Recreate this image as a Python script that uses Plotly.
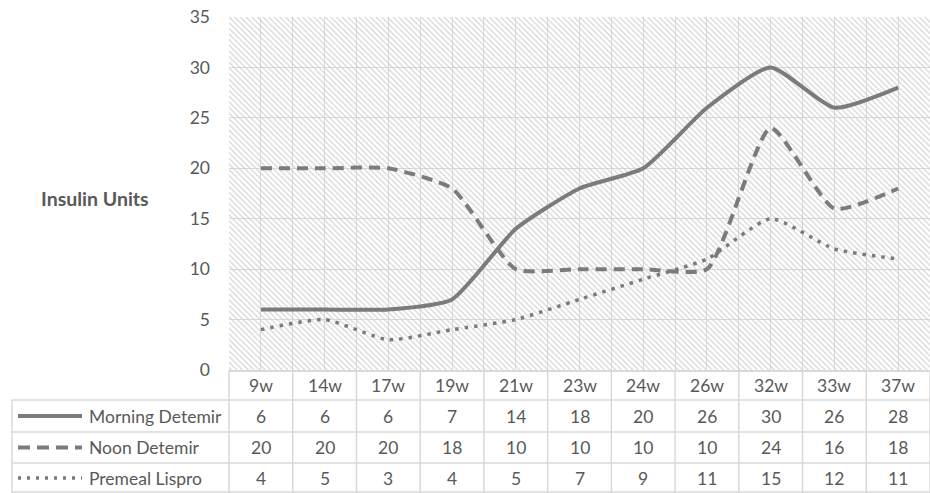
import plotly.graph_objects as go

categories = ["9w", "14w", "17w", "19w", "21w", "23w", "24w", "26w", "32w", "33w", "37w"]
morning_detemir = [6, 6, 6, 7, 14, 18, 20, 26, 30, 26, 28]
noon_detemir = [20, 20, 20, 18, 10, 10, 10, 10, 24, 16, 18]
premeal_lispro = [4, 5, 3, 4, 5, 7, 9, 11, 15, 12, 11]
series_names = ["Morning Detemir", "Noon Detemir", "Premeal Lispro"]
y_ticks = [0, 5, 10, 15, 20, 25, 30, 35]
y_title = "Insulin Units"

W, H = 930, 493
L, R, T, B = 229, 0, 17, 123
PW, PH = W - L - R, H - T - B
FONT = "Lato"
TXT = "#595959"
GRID = "#d9d9d9"
LINE = "#7b7b7b"
FS = 17.5


def pxx(x):
    return (x - L) / PW


def pyy(y):
    return (H - B - y) / PH


xs = list(range(len(categories)))
series = [morning_detemir, noon_detemir, premeal_lispro]
styles = [dict(width=4, dash="solid"), dict(width=4, dash="11px,7px"), dict(width=3.5, dash="3.5px,6px")]
key_styles = [dict(width=4, dash="solid"), dict(width=4, dash="12px,7px"), dict(width=3.5, dash="3px,6px")]

fig = go.Figure()
# hatched plot background
fig.add_trace(go.Scatter(
    x=[-0.5, len(categories) - 0.5, len(categories) - 0.5, -0.5, -0.5],
    y=[0, 0, 35, 35, 0], mode="none", fill="toself",
    fillcolor="rgba(0,0,0,0)",
    fillpattern=dict(shape="\\", fgcolor="#cdcdcd", bgcolor="rgba(0,0,0,0)",
                     size=4, solidity=0.27, fillmode="replace"),
    hoverinfo="skip", showlegend=False))

for name, vals, st in zip(series_names, series, styles):
    fig.add_trace(go.Scatter(
        x=xs, y=vals, mode="lines", name=name, showlegend=False,
        line=dict(color=LINE, width=st["width"], dash=st["dash"], shape="spline", smoothing=0.55)))

shapes = []
ann = []
row_lines = [400, 432, 463, 492]
# horizontal table lines
for yb in row_lines:
    shapes.append(dict(type="line", xref="paper", yref="paper", x0=pxx(12), x1=1,
                       y0=pyy(yb), y1=pyy(yb), line=dict(color=GRID, width=1.5)))
# left border of body rows
shapes.append(dict(type="line", xref="paper", yref="paper", x0=pxx(12), x1=pxx(12),
                   y0=pyy(400), y1=pyy(493), line=dict(color=GRID, width=1.5)))
# vertical category boundaries in table
for i in range(len(categories) + 1):
    shapes.append(dict(type="line", xref="paper", yref="paper",
                       x0=i / len(categories), x1=i / len(categories),
                       y0=pyy(370), y1=pyy(493), line=dict(color=GRID, width=1.5)))

# header labels
for i, c in enumerate(categories):
    ann.append(dict(x=i, y=pyy(385), xref="x", yref="paper", text=c, showarrow=False,
                    xanchor="center", yanchor="middle",
                    font=dict(family=FONT, size=FS, color=TXT)))
row_centers = [416, 447.5, 478]
for name, vals, yc, ks in zip(series_names, series, row_centers, key_styles):
    for i, v in enumerate(vals):
        ann.append(dict(x=i, y=pyy(yc), xref="x", yref="paper", text=str(v), showarrow=False,
                        xanchor="center", yanchor="middle",
                        font=dict(family=FONT, size=FS, color=TXT)))
    ann.append(dict(x=pxx(87), y=pyy(yc), xref="paper", yref="paper", text=name, showarrow=False,
                    xanchor="left", yanchor="middle", font=dict(family=FONT, size=FS, color=TXT)))
    shapes.append(dict(type="line", xref="paper", yref="paper", x0=pxx(18), x1=pxx(82),
                       y0=pyy(yc), y1=pyy(yc), line=dict(color=LINE, width=ks["width"], dash=ks["dash"])))

ann.append(dict(x=pxx(95), y=pyy(198), xref="paper", yref="paper", text="<b>" + y_title + "</b>",
                showarrow=False, xanchor="center", yanchor="middle",
                font=dict(family=FONT, size=19.5, color=TXT)))

fig.update_layout(
    width=W, height=H, margin=dict(l=L, r=R, t=T, b=B),
    paper_bgcolor="white", plot_bgcolor="white",
    shapes=shapes, annotations=ann,
    xaxis=dict(range=[-0.5, len(categories) - 0.5], tick0=-0.5, dtick=0.5, showgrid=True,
               gridcolor=GRID, gridwidth=1, showticklabels=False, zeroline=False,
               showline=True, linecolor=GRID, linewidth=1.5, fixedrange=True),
    yaxis=dict(range=[0, 35], tickvals=y_ticks, showgrid=True, gridcolor=GRID, gridwidth=1,
               zeroline=False, tickfont=dict(family=FONT, size=FS, color=TXT),
               ticklabelstandoff=18, fixedrange=True),
)

fig.write_html("out.html")
